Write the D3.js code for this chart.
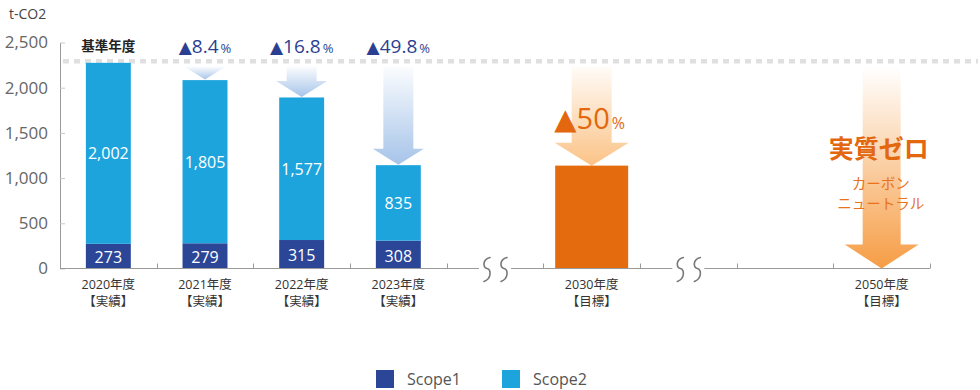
<!DOCTYPE html>
<html><head><meta charset="utf-8">
<script src="https://cdn.jsdelivr.net/npm/d3@7"></script>
<style>
html,body{margin:0;padding:0;background:#fff;}
svg{display:block;}
text{font-family:"Open Sans","Noto Sans CJK JP",sans-serif;}
</style></head>
<body>
<script>
// ---- data ----
const slots = ["2020年度","2021年度","2022年度","2023年度","~a","2030年度","~b","-","2050年度"];
const actualYears = ["2020年度","2021年度","2022年度","2023年度"];
const targetYears = ["2030年度","2050年度"];
const actualNote = "【実績】";
const targetNote = "【目標】";
const scope1 = [273, 279, 315, 308];
const scope2 = [2002, 1805, 1577, 835];
const reductionYears = ["2021年度","2022年度","2023年度"];
const reductions = ["8.4", "16.8", "49.8"];
const targetValues = [1138, 0];
const targetReduction = "50";
const yTicks = [0, 500, 1000, 1500, 2000, 2500];
const legendItems = ["Scope1", "Scope2"];

// ---- setup ----
const W = 980, H = 390;
const C1 = "#2b4597", C2 = "#1ea4dc", ORANGE = "#e46c0e", BLUE_TXT = "#2b3f92", ORANGE_TXT = "#e2670f";
const svg = d3.select("body").append("svg").attr("width", W).attr("height", H);
const defs = svg.append("defs");
function grad(id, color, o0) {
  const g = defs.append("linearGradient").attr("id", id).attr("x1", 0).attr("y1", 0).attr("x2", 0).attr("y2", 1);
  g.append("stop").attr("offset", "0%").attr("stop-color", color).attr("stop-opacity", o0);
  g.append("stop").attr("offset", "100%").attr("stop-color", color).attr("stop-opacity", 1);
}
grad("gBlue", "#a6c4e9", 0.05);
grad("gOr1", "#fbc387", 0.06);
grad("gOr2", "#f69d45", 0.0);

const x = d3.scaleBand().domain(slots).range([60, 930]).padding(0);
const bw = x.bandwidth();
const cx = d => x(d) + bw / 2;
const y = d3.scaleLinear().domain([0, 2500]).range([268.5, 42.5]);
const baseTotal = scope1[0] + scope2[0];

// unit label
svg.append("text").attr("x", 9).attr("y", 19).attr("font-size", 14).attr("fill", "#444").text("t-CO2");

// y axis
const ya = svg.append("g").attr("transform", "translate(60,0)")
  .call(d3.axisLeft(y).tickValues(yTicks).tickFormat(d3.format(",")).tickSizeInner(-5).tickSizeOuter(0).tickPadding(12));
ya.select(".domain").attr("stroke", "#9a9a9a");
ya.selectAll(".tick line").attr("stroke", "#c8c8c8");
ya.selectAll(".tick text").attr("font-size", 17).attr("fill", "#666").attr("font-family", "'Open Sans',sans-serif");

// baseline reference dashed line
svg.append("line").attr("x1", 63).attr("x2", 978)
  .attr("y1", y(baseTotal) - 1.5).attr("y2", y(baseTotal) - 1.5)
  .attr("stroke", "#e0e0e0").attr("stroke-width", 4.5).attr("stroke-dasharray", "6,5");

// arrows
function arrow(c, top, tip, shaftW, headW, headH, fill) {
  let pts;
  if (tip - top <= headH) {
    const w = headW * (tip - top) / headH;
    pts = [[c - w / 2, top], [c + w / 2, top], [c, tip]];
  } else {
    const hy = tip - headH;
    pts = [[c - shaftW / 2, top], [c + shaftW / 2, top], [c + shaftW / 2, hy], [c + headW / 2, hy],
           [c, tip], [c - headW / 2, hy], [c - shaftW / 2, hy]];
  }
  svg.append("path").attr("d", d3.line()(pts) + "Z").attr("fill", fill);
}
const arrowTop = y(baseTotal) + 4;
reductionYears.forEach((yr) => {
  const i = actualYears.indexOf(yr);
  arrow(cx(yr), arrowTop, y(scope1[i] + scope2[i]) - 0.5, 30, 51, 16, "url(#gBlue)");
});
arrow(cx(targetYears[0]), arrowTop, y(targetValues[0]), 40, 74, 23, "url(#gOr1)");
arrow(cx(targetYears[1]), arrowTop, y(targetValues[1]), 38, 74, 24, "url(#gOr2)");

// bars
const barW = bw * 0.465;
actualYears.forEach((yr, i) => {
  const c = cx(yr);
  svg.append("rect").attr("x", c - barW / 2).attr("width", barW)
    .attr("y", y(scope1[i])).attr("height", y(0) - y(scope1[i])).attr("fill", C1);
  svg.append("rect").attr("x", c - barW / 2).attr("width", barW)
    .attr("y", y(scope1[i] + scope2[i])).attr("height", y(scope1[i]) - y(scope1[i] + scope2[i])).attr("fill", C2);
  svg.append("text").attr("x", c).attr("y", (y(0) + y(scope1[i])) / 2 + 1).attr("text-anchor", "middle")
    .attr("dominant-baseline", "central").attr("font-size", 16).attr("fill", "#fff").text(d3.format(",")(scope1[i]));
  svg.append("text").attr("x", c).attr("y", (y(scope1[i]) + y(scope1[i] + scope2[i])) / 2).attr("text-anchor", "middle")
    .attr("dominant-baseline", "central").attr("font-size", 16).attr("fill", "#fff").text(d3.format(",")(scope2[i]));
});
const tW = bw * 0.755;
svg.append("rect").attr("x", cx(targetYears[0]) - tW / 2).attr("width", tW)
  .attr("y", y(targetValues[0])).attr("height", y(0) - y(targetValues[0])).attr("fill", ORANGE);

// x baseline with breaks
const y0 = y(0);
const breaks = slots.filter(s => s.startsWith("~")).map(cx);
let segStart = 60;
breaks.forEach(b => {
  svg.append("line").attr("x1", segStart).attr("x2", b - 16).attr("y1", y0).attr("y2", y0).attr("stroke", "#9a9a9a");
  segStart = b + 16;
});
svg.append("line").attr("x1", segStart).attr("x2", 930).attr("y1", y0).attr("y2", y0).attr("stroke", "#9a9a9a");
slots.forEach(s => {
  const bx = Math.round(x(s) + bw) + 0.5;
  svg.append("line").attr("x1", bx).attr("x2", bx).attr("y1", y0 - 5).attr("y2", y0).attr("stroke", "#9a9a9a");
});
breaks.forEach(b => {
  [-8, 9].forEach(off => {
    const q = b + off;
    svg.append("path")
      .attr("d", `M${q + 3},${y0 - 11} C${q - 5},${y0 - 9} ${q - 4},${y0 - 1} ${q},${y0} C${q + 4},${y0 + 1} ${q + 5},${y0 + 10} ${q - 3},${y0 + 13}`)
      .attr("fill", "none").attr("stroke", "#777").attr("stroke-width", 1.6).attr("stroke-linecap", "round");
  });
});

// x labels
const allLabels = actualYears.map(d => [d, actualNote]).concat(targetYears.map(d => [d, targetNote]));
allLabels.forEach(([yr, note]) => {
  svg.append("text").attr("x", cx(yr)).attr("y", 289).attr("text-anchor", "middle")
    .attr("font-size", 12.5).attr("fill", "#333").text(yr);
  svg.append("text").attr("x", cx(yr)).attr("y", 306).attr("text-anchor", "middle")
    .attr("font-size", 12.5).attr("fill", "#333").text(note);
});

// base year label
svg.append("text").attr("x", cx(actualYears[0])).attr("y", 51).attr("text-anchor", "middle")
  .attr("font-size", 13.5).attr("font-weight", "bold").attr("fill", "#222")
  .attr("font-family", "'Noto Sans CJK JP',sans-serif").text("基準年度");

// reduction labels
reductionYears.forEach((yr, i) => {
  const t = svg.append("text").attr("x", cx(yr)).attr("y", 53).attr("text-anchor", "middle").attr("fill", BLUE_TXT);
  t.append("tspan").attr("font-size", 17).attr("font-family", "'DejaVu Sans',sans-serif").text("▲");
  t.append("tspan").attr("font-size", 19).text(reductions[i]);
  t.append("tspan").attr("font-size", 13).attr("dx", 2).text("%");
});
{
  const t = svg.append("text").attr("x", cx(targetYears[0]) - 2).attr("y", 129).attr("text-anchor", "middle").attr("fill", ORANGE_TXT);
  t.append("tspan").attr("font-size", 29).attr("font-family", "'DejaVu Sans',sans-serif").text("▲");
  t.append("tspan").attr("font-size", 29).text(targetReduction);
  t.append("tspan").attr("font-size", 16).attr("dx", 2).text("%");
}

// net zero labels
const c50 = cx(targetYears[1]) - 3;
svg.append("text").attr("x", c50).attr("y", 148).attr("text-anchor", "middle").attr("dominant-baseline", "central")
  .attr("font-size", 25).attr("font-weight", "bold").attr("fill", ORANGE_TXT)
  .attr("font-family", "'Noto Sans CJK JP',sans-serif").text("実質ゼロ");
svg.append("text").attr("x", c50 + 2).attr("y", 183).attr("text-anchor", "middle").attr("dominant-baseline", "central")
  .attr("font-size", 14.5).attr("fill", "#e8731c").attr("font-family", "'Noto Sans CJK JP',sans-serif").text("カーボン");
svg.append("text").attr("x", c50 + 2).attr("y", 203).attr("text-anchor", "middle").attr("dominant-baseline", "central")
  .attr("font-size", 14.5).attr("fill", "#e8731c").attr("font-family", "'Noto Sans CJK JP',sans-serif").text("ニュートラル");

// legend
const legendX = [376, 502];
legendItems.forEach((name, i) => {
  svg.append("rect").attr("x", legendX[i]).attr("y", 370).attr("width", 18).attr("height", 18).attr("fill", i === 0 ? C1 : C2);
  svg.append("text").attr("x", legendX[i] + 31).attr("y", 379).attr("dominant-baseline", "central")
    .attr("font-size", 16).attr("fill", "#555").text(name);
});
</script>
</body></html>
